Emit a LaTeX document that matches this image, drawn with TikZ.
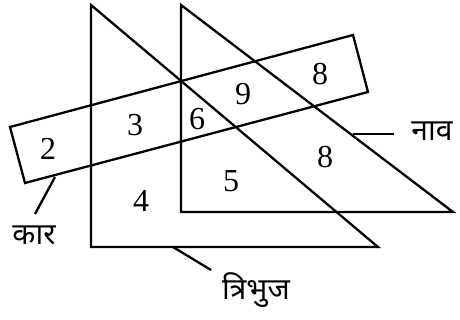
\documentclass[tikz,border=0pt]{standalone}
\usepackage{fontspec}
\setmainfont{Liberation Serif}
\newfontfamily\devfont[Script=Devanagari]{Noto Sans}
\begin{document}
\begin{tikzpicture}[x=1pt,y=-1pt,
  edge/.style={line width=2.3pt, line join=miter},
  num/.style={font=\fontsize{32}{32}\selectfont, inner sep=0pt},
  lab/.style={font=\devfont\fontsize{30}{30}\selectfont, inner sep=0pt}]
\useasboundingbox (0,0) rectangle (460,320);
% triangle (tribhuj)
\coordinate (A1) at (91,5);
\coordinate (B1) at (91,247);
\coordinate (C1) at (378,247);
% triangle (naav)
\coordinate (A2) at (181,5);
\coordinate (B2) at (181,212);
\coordinate (C2) at (453,212);
% rectangle (kaar)
\coordinate (R1) at (10,127);
\coordinate (R2) at (353,35);
\coordinate (R3) at (368,92);
\coordinate (R4) at (25,183);
\draw[edge] (A1) -- (B1) -- (C1) -- cycle;
\draw[edge] (A2) -- (B2) -- (C2) -- cycle;
\draw[edge] (R1) -- (R2) -- (R3) -- (R4) -- cycle;
% numbers
\node[num] (n2) at (48,149) {2};
\node[num] (n3) at (135,125) {3};
\node[num] (n6) at (197,119) {6};
\node[num] (n9) at (243,94) {9};
\node[num] (n8a) at (320,74) {8};
\node[num] (n8b) at (325,157) {8};
\node[num] (n5) at (231,181) {5};
\node[num] (n4) at (141,201) {4};
% labels
\node[lab] (kaar) at (34,235) {कार};
\node[lab] (naav) at (432,131) {नाव};
\node[lab] (tri) at (256,290) {त्रिभुज};
\coordinate (k1) at (55,177);
\coordinate (k2) at (35,214);
\coordinate (v1) at (353,134);
\coordinate (v2) at (394,134);
\coordinate (t1) at (173,247);
\coordinate (t2) at (211,270);
\draw[edge] (k1) -- (k2);
\draw[edge] (v1) -- (v2);
\draw[edge] (t1) -- (t2);
\end{tikzpicture}
\end{document}
